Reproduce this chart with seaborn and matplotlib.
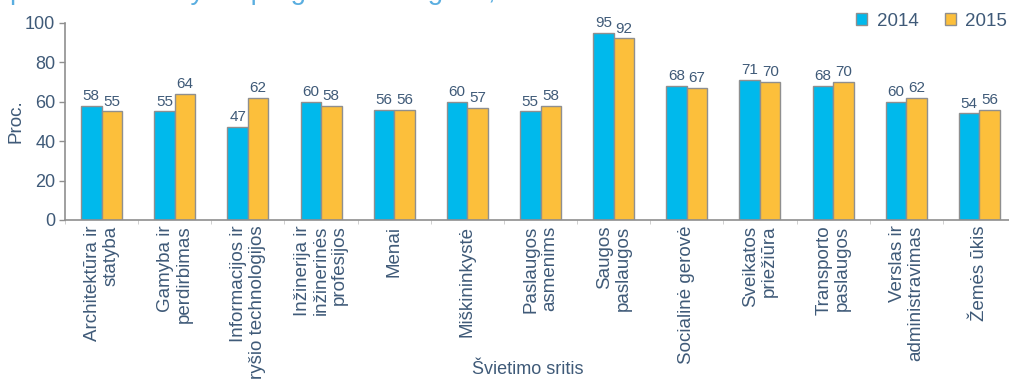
import numpy as np
import pandas as pd
import seaborn as sns
import matplotlib
matplotlib.use("Agg")
import matplotlib.pyplot as plt
from matplotlib.patches import Patch

categories = [
    "Architektūra ir\nstatyba",
    "Gamyba ir\nperdirbimas",
    "Informacijos ir\nryšio technologijos",
    "Inžinerija ir\ninžinerinės\nprofesijos",
    "Menai",
    "Miškininkystė",
    "Paslaugos\nasmenims",
    "Saugos\npaslaugos",
    "Socialinė gerovė",
    "Sveikatos\npriežiūra",
    "Transporto\npaslaugos",
    "Verslas ir\nadministravimas",
    "Žemės ūkis",
]
values_2014 = [58, 55, 47, 60, 56, 60, 55, 95, 68, 71, 68, 60, 54]
values_2015 = [55, 64, 62, 58, 56, 57, 58, 92, 67, 70, 70, 62, 56]
years = ["2014", "2015"]
yticks = [0, 20, 40, 60, 80, 100]

TXT = "#3f5a78"
BLUE = "#00b9ec"
YELLOW = "#fcbf3b"
EDGE = "#8f8f8f"

df = pd.DataFrame({
    "cat": categories * 2,
    "year": [years[0]] * len(categories) + [years[1]] * len(categories),
    "val": values_2014 + values_2015,
})

sns.set_style("white")
plt.rcParams["font.family"] = ["Liberation Sans", "DejaVu Sans"]

W, H = 1009, 383
fig = plt.figure(figsize=(W / 100, H / 100), dpi=100)
ax = fig.add_axes([65 / W, (H - 220) / H, 951 / W, 197.3 / H])

sns.barplot(data=df, x="cat", y="val", hue="year", order=categories,
            hue_order=years, palette=[BLUE, YELLOW], width=0.56, saturation=1,
            edgecolor=EDGE, linewidth=1.0, ax=ax, legend=False)

for cont in ax.containers:
    ax.bar_label(cont, fmt="%d", padding=2, fontsize=11, color=TXT)

ax.set_xlim(-0.5, len(categories) - 0.5)
ax.set_ylim(0, 100)
ax.set_yticks(yticks)
ax.tick_params(axis="y", labelsize=13, colors=TXT, length=4, width=1,
               color=EDGE, left=True, pad=3)
ax.set_xticks(range(len(categories)))
ax.set_xticklabels(categories, rotation=90, fontsize=13.5, color=TXT,
                   ha="center", va="top", multialignment="right",
                   linespacing=1.1)
ax.tick_params(axis="x", length=0, pad=4)
ax.set_xticks(np.arange(-0.5, len(categories), 1.0), minor=True)
ax.tick_params(axis="x", which="minor", length=3, color="#c8c8c8", bottom=True)

for s in ["top", "right"]:
    ax.spines[s].set_visible(False)
for s in ["left", "bottom"]:
    ax.spines[s].set_color(EDGE)
    ax.spines[s].set_linewidth(1.2)

ax.set_ylabel("Proc.", fontsize=13.5, color=TXT)
ax.yaxis.set_label_coords(-40 / 951, 0.5)
ax.set_xlabel("Švietimo sritis", fontsize=13, color=TXT, va="center")
ax.xaxis.set_label_coords((528 - 65) / 951, -150 / 197.3)

handles = [Patch(facecolor=BLUE, edgecolor=EDGE), Patch(facecolor=YELLOW, edgecolor=EDGE)]
fig.legend(handles, years, loc="center right", bbox_to_anchor=(1007 / W, 1 - 21 / H),
           ncol=2, frameon=False, fontsize=13.5, handlelength=0.6, handleheight=0.6,
           handletextpad=0.5, columnspacing=1.4, labelcolor=TXT, borderaxespad=0,
           borderpad=0)

fig.text(10 / W, 1 + 1 / H, "profesinio mokymo programos baigimo, dalis",
         fontsize=20, color="#5aaee0", ha="left", va="baseline")

fig.savefig("out.png", dpi=100)
